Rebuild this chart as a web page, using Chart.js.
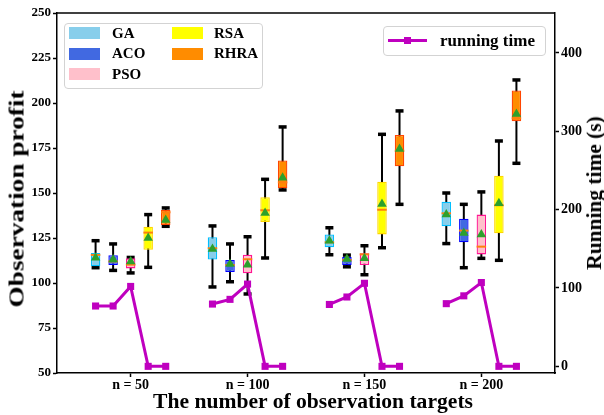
<!DOCTYPE html>
<html>
<head>
<meta charset="utf-8">
<script src="https://cdn.jsdelivr.net/npm/chart.js@4.4.1/dist/chart.umd.min.js"></script>
<style>
  body { margin: 0; background: #fff; }
  #wrap {
    position: relative; width: 604px; height: 415px; overflow: hidden;
    font-family: "Liberation Serif", "Times New Roman", serif; font-weight: bold; color: #000;
  }
  #c { position: absolute; left: 0; top: 0; }
  .txt { position: absolute; white-space: nowrap; line-height: 1; }
  .legend { position: absolute; border: 1.5px solid #d3d3d3; border-radius: 4px; background: rgba(255,255,255,0.85); box-sizing: border-box; }
  .sw { position: absolute; width: 31px; height: 12px; }
</style>
</head>
<body>
<div id="wrap">
  <canvas id="c" width="604" height="415"></canvas>
  <div class="legend" style="left:64px;top:23px;width:199px;height:66px"></div>
  <div id="legItems"></div>
  <div class="legend" style="left:383px;top:26px;width:163px;height:30px"></div>
  <div style="position:absolute;left:388px;top:39px;width:39px;height:3px;background:#BF00BF"></div>
  <div style="position:absolute;left:404px;top:37px;width:7px;height:7px;background:#BF00BF"></div>
  <div class="txt" style="left:440px;top:32px;font-size:17px">running time</div>
  <div class="txt" style="left:17px;top:199px;font-size:21px;transform:translate(-50%,-50%) rotate(-90deg) scaleX(1.3)">Observation profit</div>
  <div class="txt" style="left:594px;top:193px;font-size:20px;transform:translate(-50%,-50%) rotate(-90deg) scaleX(1.07)">Running time (s)</div>
  <div class="txt" style="left:313px;top:401px;font-size:20px;transform:translate(-50%,-50%) scaleX(1.08)">The number of observation targets</div>
</div>
<script>
(function () {
  "use strict";

  // 데이터
  const groups = ["n = 50", "n = 100", "n = 150", "n = 200"];
  const methods = ["GA", "ACO", "PSO", "RSA", "RHRA"];
  const boxFill = ["#87CEEB", "#4169E1", "#FFC0CB", "#FFFF00", "#FF8C00"];
  const boxEdge = ["#00BFFF", "#0000FF", "#FF1493", "#FFD700", "#FF4500"];

  // [lower whisker, Q1, median, Q3, upper whisker], one row per group
  const statsGA = [[108.5, 109.3, 115.6, 116.7, 123.5], [97.8, 113, 119.3, 125.4, 131.7], [115.7, 119.8, 122.6, 127, 130.7], [121.9, 131.5, 138.7, 145.2, 150]];
  const statsACO = [[107, 110, 112, 115.4, 121.7], [100.7, 106.1, 110, 112.8, 121.7], [109, 110, 112.8, 114.5, 115.5], [108.5, 122.6, 129.1, 135.7, 143.7]];
  const statsPSO = [[105.6, 108.1, 110.2, 113.7, 114.2], [93.9, 105.4, 113.2, 115.7, 125.7], [104.6, 110, 115.9, 116.5, 120.7], [113.7, 115.9, 120.2, 138, 150.6]];
  const statsRSA = [[108.7, 118.5, 128, 131.3, 138], [113.9, 133.9, 140.4, 147.6, 157.6], [119.6, 127, 140.7, 156.3, 182.6], [112.6, 127.6, 143.2, 159.6, 178.9]];
  const statsRHRA = [[131.5, 132.2, 139.3, 140.6, 141.7], [151.7, 152.6, 155.9, 168.1, 186.7], [143.7, 164.8, 173.5, 182.2, 195.6], [166.5, 189.8, 191.5, 207, 212.8]];

  const meanGA = [114, 118.9, 123.5, 138];
  const meanACO = [113, 110.6, 113.3, 127.8];
  const meanPSO = [112, 110.2, 113.7, 126.9];
  const meanRSA = [125, 138.9, 143.9, 144.3];
  const meanRHRA = [135, 158.5, 174.4, 193.9];

  // running time (s) per group: GA, ACO, PSO, RSA, RHRA
  const runTime = [[77, 77, 102, 0, 0], [79.5, 85.5, 105, 0, 0], [79, 88.5, 106, 0, 0], [80, 90, 107, 0, 0]];

  const profitTicks = [50, 75, 100, 125, 150, 175, 200, 225, 250];
  const timeTicks = [0, 100, 200, 300, 400];

  const allStats = [statsGA, statsACO, statsPSO, statsRSA, statsRHRA];
  const allMeans = [meanGA, meanACO, meanPSO, meanRSA, meanRHRA];

  const SPREAD = 0.15;
  const posOf = (g, m) => g + 1 + (m - 2) * SPREAD;

  // HTML 범례
  const leg = document.getElementById("legItems");
  const rowY = [33, 53.5, 74];
  methods.forEach((name, m) => {
    const col = m < 3 ? 0 : 1;
    const row = m < 3 ? m : m - 3;
    const sx = col ? 172 : 69;
    const tx = col ? 214 : 112;
    leg.insertAdjacentHTML(
      "beforeend",
      `<div class="sw" style="left:${sx}px;top:${rowY[row] - 6}px;background:${boxFill[m]}"></div>` +
        `<div class="txt" style="left:${tx}px;top:${rowY[row] - 7.5}px;font-size:15px">${name}</div>`,
    );
  });

  const font = (size) => ({ family: "'Liberation Serif', 'Times New Roman', serif", size, weight: "bold" });

  const datasets = [];

  // whiskers
  const whiskerData = [];
  const capData = [];
  allStats.forEach((st, m) =>
    st.forEach((s, g) => {
      whiskerData.push({ x: posOf(g, m), y: [s[0], s[4]] });
      capData.push({ x: posOf(g, m), y: s[0] });
      capData.push({ x: posOf(g, m), y: s[4] });
    }),
  );
  datasets.push({
    type: "bar", data: whiskerData, grouped: false, maxBarThickness: 2,
    backgroundColor: "#000", borderWidth: 0, order: 10, yAxisID: "y",
  });
  datasets.push({
    type: "line", data: capData, showLine: false, pointStyle: "line", pointRadius: 4,
    borderColor: "#000", pointBorderWidth: 3.5, order: 9, yAxisID: "y",
  });

  // boxes
  allStats.forEach((st, m) => {
    datasets.push({
      type: "bar", label: methods[m], grouped: false, maxBarThickness: 9.5,
      data: st.map((s, g) => ({ x: posOf(g, m), y: [s[1], s[3]] })),
      backgroundColor: boxFill[m], borderColor: boxEdge[m], borderWidth: 1.3,
      borderSkipped: false, order: 8, yAxisID: "y",
    });
  });

  // medians
  const medData = [];
  allStats.forEach((st, m) => st.forEach((s, g) => medData.push({ x: posOf(g, m), y: s[2] })));
  datasets.push({
    type: "line", data: medData, showLine: false, pointStyle: "line", pointRadius: 4.75,
    borderColor: "#FF7F0E", pointBorderWidth: 2, order: 3, yAxisID: "y",
  });

  // means
  const meanData = [];
  allMeans.forEach((mv, m) => mv.forEach((v, g) => meanData.push({ x: posOf(g, m), y: v })));
  datasets.push({
    type: "line", data: meanData, showLine: false, pointStyle: "triangle", pointRadius: 5.5,
    backgroundColor: "#2CA02C", borderColor: "#2CA02C", pointBorderWidth: 0, order: 2, yAxisID: "y",
  });

  // running time
  runTime.forEach((row, g) => {
    datasets.push({
      type: "line", label: "running time",
      data: row.map((v, m) => ({ x: posOf(g, m), y: v })),
      borderColor: "#BF00BF", backgroundColor: "#BF00BF", borderWidth: 3,
      pointStyle: "rect", pointRadius: 5, pointBorderWidth: 0, tension: 0,
      order: 1, yAxisID: "y1",
    });
  });

  const axisGrid = { drawOnChartArea: false, drawTicks: true, tickLength: 4, tickWidth: 1.5, tickColor: "#000" };
  const axisBorder = { color: "#000", width: 1.5 };

  const framePlugin = {
    id: "frameTop",
    afterDraw(chart) {
      const { ctx, chartArea: a } = chart;
      ctx.save();
      ctx.strokeStyle = "#000";
      ctx.lineWidth = 1.5;
      ctx.beginPath();
      ctx.moveTo(a.left, a.top);
      ctx.lineTo(a.right, a.top);
      ctx.stroke();
      ctx.restore();
    },
  };

  new Chart(document.getElementById("c"), {
    type: "line",
    data: { datasets },
    plugins: [framePlugin],
    options: {
      responsive: false,
      devicePixelRatio: 1,
      animation: false,
      events: [],
      layout: { padding: { top: 13, left: 0, right: 0, bottom: 0 } },
      plugins: { legend: { display: false }, tooltip: { enabled: false } },
      scales: {
        x: {
          type: "linear", min: 0.37, max: 4.63, offset: false,
          afterBuildTicks: (s) => { s.ticks = [1, 2, 3, 4].map((v) => ({ value: v })); },
          afterFit: (s) => { s.height = 42; },
          ticks: { callback: (v) => groups[v - 1], font: font(14), color: "#000", padding: 0, maxRotation: 0, autoSkip: false },
          grid: { ...axisGrid, offset: false },
          border: axisBorder,
        },
        y: {
          type: "linear", position: "left", min: 50, max: 250,
          afterBuildTicks: (s) => { s.ticks = profitTicks.map((v) => ({ value: v })); },
          afterFit: (s) => { s.width = 57; },
          ticks: { font: font(13), color: "#000", padding: 2 },
          grid: axisGrid,
          border: axisBorder,
        },
        y1: {
          type: "linear", position: "right", min: -8.5, max: 451,
          afterBuildTicks: (s) => { s.ticks = timeTicks.map((v) => ({ value: v })); },
          afterFit: (s) => { s.width = 49; },
          ticks: { font: font(14), color: "#000", padding: 2 },
          grid: axisGrid,
          border: axisBorder,
        },
      },
    },
  });
})();
</script>
</body>
</html>
